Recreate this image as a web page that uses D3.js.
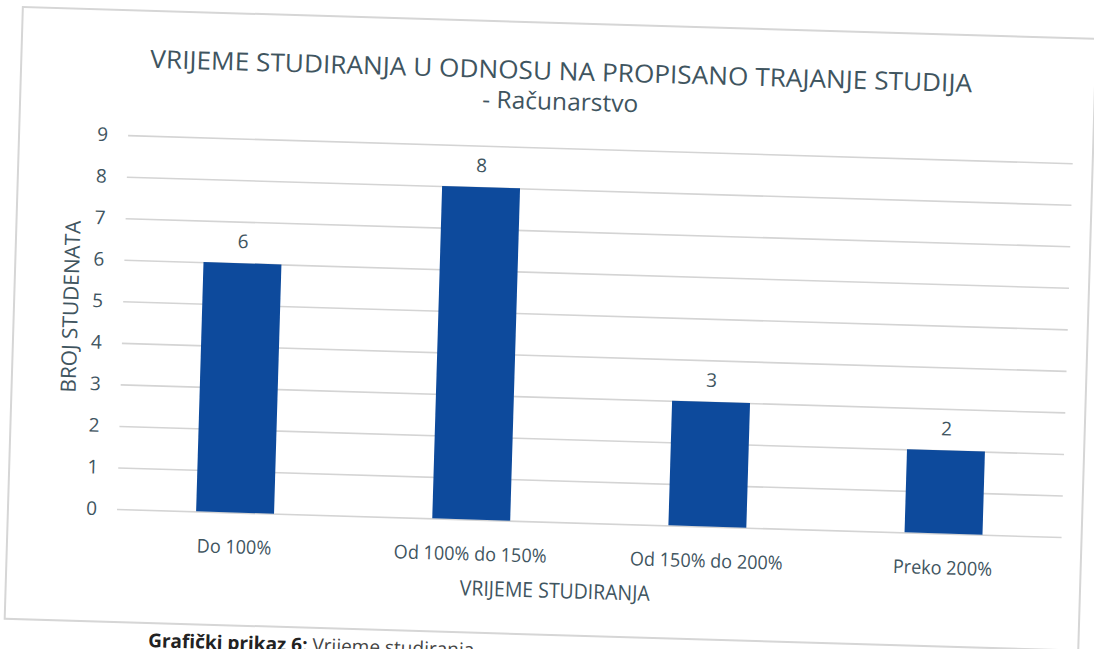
<!DOCTYPE html>
<html>
<head>
<meta charset="utf-8">
<script src="https://cdn.jsdelivr.net/npm/d3@7"></script>
<style>
  body { margin: 0; background: #fff; }
  svg { display: block; font-family: "Open Sans", "Noto Sans", sans-serif; }
</style>
</head>
<body>
<svg width="1094" height="649"></svg>
<script>
// chart values
var categories = ["Do 100%", "Od 100% do 150%", "Od 150% do 200%", "Preko 200%"];
var counts = [6, 8, 3, 2];
var yTicks = [0, 1, 2, 3, 4, 5, 6, 7, 8, 9];

var titleText = "VRIJEME STUDIRANJA U ODNOSU NA PROPISANO TRAJANJE STUDIJA";
var subtitleText = "- Računarstvo";
var yTitle = "BROJ STUDENATA";
var xTitle = "VRIJEME STUDIRANJA";

var textColor = "#3f555f";
var barColor = "#0d4a9c";

var margin = {left: 117, top: 135, width: 945, height: 374};

var svg = d3.select("svg");
svg.append("rect").attr("width", 1094).attr("height", 649).attr("fill", "#fff");

// the scanned page is slightly tilted
var page = svg.append("g")
    .attr("transform", "rotate(1.7," + margin.left + "," + (margin.top + margin.height) + ")");

page.append("rect")
    .attr("x", 8).attr("y", 10)
    .attr("width", 1074).attr("height", 612)
    .attr("fill", "none")
    .attr("stroke", "#d6d6d6")
    .attr("stroke-width", 2);

// squeeze a text to a given width, Calibri is narrower than our fonts
var fit = function(sel, w){
  sel.attr("textLength", w).attr("lengthAdjust", "spacingAndGlyphs");
};

page.append("text")
    .attr("x", 548).attr("y", 67)
    .attr("text-anchor", "middle")
    .attr("font-size", "25px")
    .attr("fill", textColor)
    .text(titleText)
    .call(fit, 822);

page.append("text")
    .attr("x", 548).attr("y", 97)
    .attr("text-anchor", "middle")
    .attr("font-size", "24px")
    .attr("fill", textColor)
    .text(subtitleText)
    .call(fit, 156);

var chart = page.append("g")
    .attr("transform", "translate(" + margin.left + "," + margin.top + ")");

var x = d3.scaleBand()
    .domain(categories)
    .range([0, margin.width])
    .paddingInner(0.67)
    .paddingOuter(0.335);

var y = d3.scaleLinear()
    .domain([0, 9])
    .range([margin.height, 0]);

// gridlines + tick labels
var yAxis = chart.append("g")
    .call(d3.axisLeft(y).tickValues(yTicks).tickSize(-margin.width).tickPadding(20).tickFormat(d3.format("d")));
yAxis.select(".domain").remove();
yAxis.selectAll(".tick line").attr("stroke", "#d4d4d4").attr("stroke-width", 1.6);
yAxis.selectAll(".tick text")
    .attr("fill", textColor)
    .attr("font-size", "19px")
    .attr("font-family", "'Open Sans', sans-serif");

chart.selectAll("rect.bar")
    .data(counts)
  .enter().append("rect")
    .attr("class", "bar")
    .attr("x", function(d, i){ return x(categories[i]); })
    .attr("y", function(d){ return y(d); })
    .attr("width", x.bandwidth())
    .attr("height", function(d){ return y(0) - y(d); })
    .attr("fill", barColor);

chart.selectAll("text.val")
    .data(counts)
  .enter().append("text")
    .attr("class", "val")
    .attr("x", function(d, i){ return x(categories[i]) + x.bandwidth() / 2; })
    .attr("y", function(d){ return y(d) - 15; })
    .attr("text-anchor", "middle")
    .attr("font-size", "19px")
    .attr("fill", textColor)
    .text(function(d){ return d; });

chart.selectAll("text.cat")
    .data(categories)
  .enter().append("text")
    .attr("class", "cat")
    .attr("x", function(d){ return x(d) + x.bandwidth() / 2; })
    .attr("y", margin.height + 41)
    .attr("text-anchor", "middle")
    .attr("font-size", "19px")
    .attr("fill", textColor)
    .text(function(d){ return d; })
    .each(function(){
      var w = this.getComputedTextLength();
      d3.select(this).call(fit, w * 0.95);
    });

chart.append("text")
    .attr("x", 440).attr("y", margin.height + 76)
    .attr("text-anchor", "middle")
    .attr("font-size", "21px")
    .attr("fill", textColor)
    .text(xTitle)
    .call(fit, 190);

chart.append("text")
    .attr("transform", "translate(-45," + (margin.height / 2 - 14) + ") rotate(-90)")
    .attr("text-anchor", "middle")
    .attr("font-size", "21px")
    .attr("fill", textColor)
    .text(yTitle)
    .call(fit, 172);

// caption under the chart frame (cut by the page edge, as in the scan)
var cap = page.append("text")
    .attr("x", 152).attr("y", 646)
    .attr("font-size", "19px")
    .attr("fill", "#222");
cap.append("tspan").attr("font-weight", "bold").text("Grafički prikaz 6:");
cap.append("tspan").attr("fill", "#444").text(" Vrijeme studiranja");
</script>
</body>
</html>
